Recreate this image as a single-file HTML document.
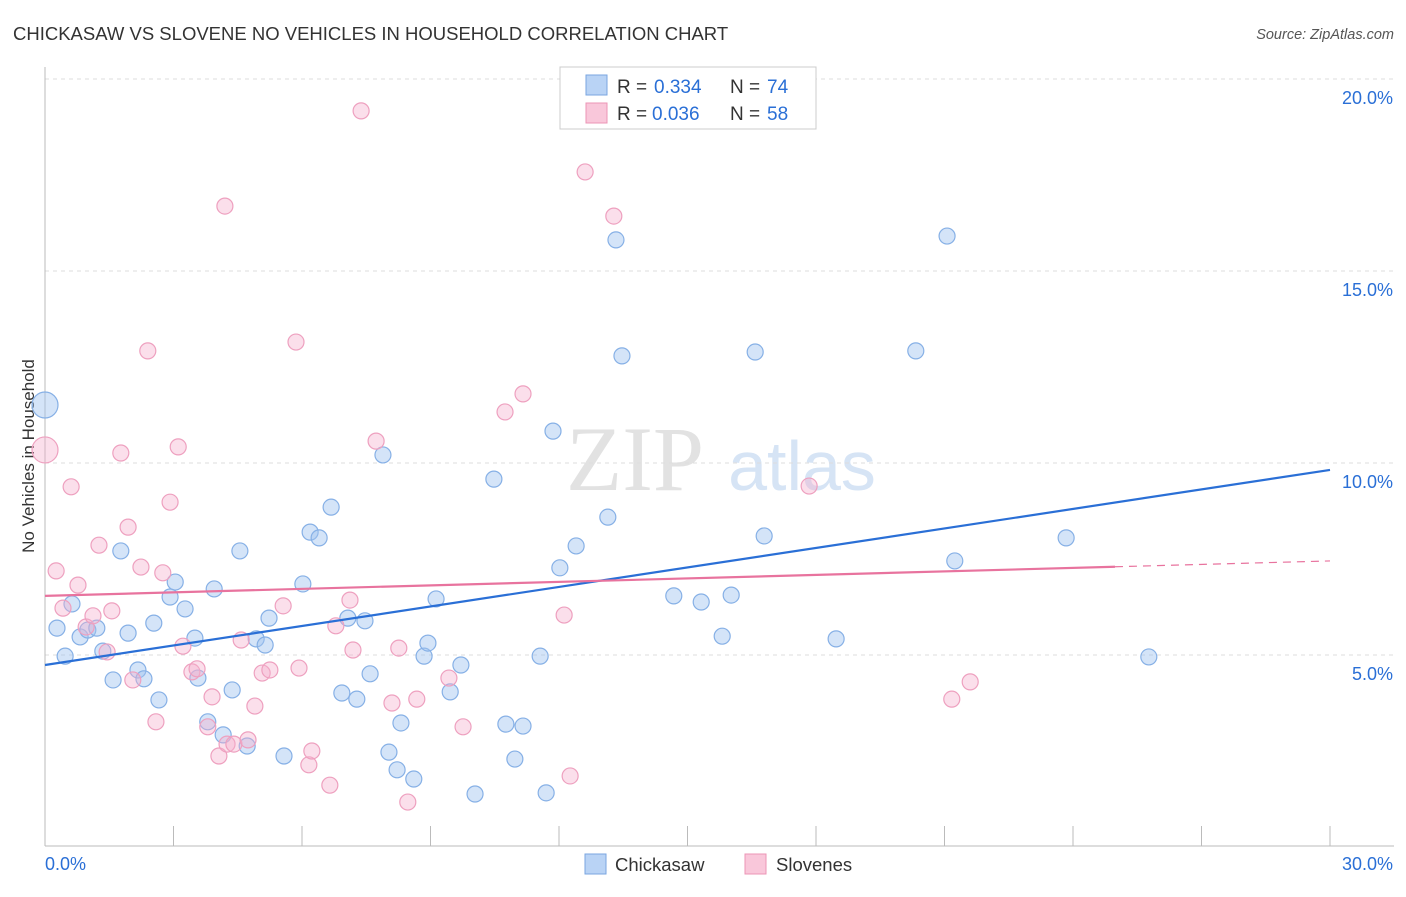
<!DOCTYPE html>
<html><head><meta charset="utf-8"><style>
body{margin:0;background:#fff;font-family:"Liberation Sans",sans-serif;}
svg text{font-family:"Liberation Sans",sans-serif;}
</style></head><body>
<svg id="chart" width="1406" height="892" xmlns="http://www.w3.org/2000/svg">
<text x="13" y="40" font-size="18.5" fill="#333">CHICKASAW VS SLOVENE NO VEHICLES IN HOUSEHOLD CORRELATION CHART</text>
<text x="1394" y="39" font-size="14.5" fill="#555" text-anchor="end" font-style="italic">Source: ZipAtlas.com</text>
<text x="34" y="456" font-size="17" fill="#333" text-anchor="middle" transform="rotate(-90 34 456)">No Vehicles in Household</text>
<g>
<text x="635" y="490" font-size="92" fill="#e2e2e2" text-anchor="middle" style="font-family:'Liberation Serif',serif">ZIP</text>
<text x="802" y="490" font-size="70" fill="#d6e4f5" text-anchor="middle">atlas</text>
</g>
<g id="grid"></g><g id="axes"></g><g id="pts"></g><g id="lines"></g>
<g>
<rect x="560" y="67" width="256" height="62" fill="#fff" stroke="#ccc"/>
<rect x="586" y="75" width="21" height="20" fill="#b9d3f5" stroke="#7aa6e0"/>
<text x="617" y="93" font-size="19" fill="#333">R =</text>
<text x="654" y="93" font-size="19" fill="#2a6fd6">0.334</text>
<text x="730" y="93" font-size="19" fill="#333">N =</text>
<text x="767" y="93" font-size="19" fill="#2a6fd6">74</text>
<rect x="586" y="103" width="21" height="20" fill="#f9c7da" stroke="#ec94b6"/>
<text x="617" y="120" font-size="19" fill="#333">R =</text>
<text x="652" y="120" font-size="19" fill="#2a6fd6">0.036</text>
<text x="730" y="120" font-size="19" fill="#333">N =</text>
<text x="767" y="120" font-size="19" fill="#2a6fd6">58</text>
</g>
<g>
<rect x="585" y="854" width="21" height="20" fill="#b9d3f5" stroke="#7aa6e0"/>
<text x="615" y="871" font-size="18.5" fill="#333">Chickasaw</text>
<rect x="745" y="854" width="21" height="20" fill="#f9c7da" stroke="#ec94b6"/>
<text x="776" y="871" font-size="18.5" fill="#333">Slovenes</text>
</g>
</svg>
<script>
const blueX=[0,0.28,0.47,0.63,0.82,1.00,1.21,1.35,1.59,1.77,1.94,2.17,2.31,2.54,2.66,2.92,3.04,3.27,3.50,3.57,3.80,3.95,4.16,4.37,4.55,4.72,4.93,5.14,5.23,5.58,6.02,6.19,6.40,6.68,6.93,7.07,7.28,7.47,7.59,7.89,8.03,8.22,8.31,8.61,8.85,8.94,9.13,9.46,9.71,10.04,10.48,10.76,10.97,11.16,11.56,11.70,11.86,12.02,12.40,13.14,13.33,13.47,14.68,15.32,15.81,16.02,16.58,16.79,18.47,20.33,21.06,21.24,23.84,25.77];
const blueY=[11.51,5.70,4.97,6.33,5.47,5.65,5.70,5.10,4.35,7.71,5.57,4.61,4.38,5.83,3.83,6.51,6.90,6.20,5.44,4.40,3.26,6.72,2.92,4.09,7.71,2.63,5.42,5.26,5.96,2.37,6.85,8.20,8.05,8.85,4.01,5.96,3.85,5.89,4.51,10.21,2.47,2.01,3.23,1.77,4.97,5.31,6.46,4.04,4.74,1.38,9.58,3.20,2.29,3.15,4.97,1.41,10.83,7.27,7.84,8.59,15.81,12.79,6.54,6.38,5.49,6.56,12.89,8.10,5.42,12.92,15.91,7.45,8.05,4.95];
const pinkX=[0,0.26,0.42,0.61,0.77,0.96,1.12,1.26,1.45,1.56,1.77,1.94,2.05,2.24,2.40,2.59,2.75,2.92,3.11,3.22,3.43,3.55,3.80,3.90,4.06,4.20,4.25,4.41,4.58,4.74,4.90,5.07,5.25,5.56,5.86,5.93,6.16,6.23,6.65,6.79,7.12,7.19,7.38,7.73,8.10,8.26,8.47,8.68,9.43,9.76,10.74,11.16,12.12,12.26,12.61,13.28,17.84,21.17,21.60];
const pinkY=[10.34,7.19,6.22,9.38,6.82,5.73,6.02,7.86,5.08,6.15,10.26,8.33,4.35,7.29,12.92,3.26,7.14,8.98,10.42,5.23,4.56,4.64,3.13,3.91,2.37,16.69,2.68,2.68,5.39,2.79,3.67,4.53,4.61,6.28,13.15,4.66,2.14,2.50,1.61,5.76,6.43,5.13,19.17,10.57,3.75,5.18,1.17,3.85,4.40,3.13,11.33,11.80,6.04,1.85,17.58,16.43,9.40,3.85,4.30];
const blueTrend=[4.74,9.82];
const pinkTrend=[6.54,7.45];
const pinkSolidEnd=24.98;
const yTicks=[5,10,15,20];
const yTickLabels=["5.0%","10.0%","15.0%","20.0%"];
const xTicks=[0,3,6,9,12,15,18,21,24,27,30];
const NS="http://www.w3.org/2000/svg";
const sx=v=>45+v/30*1285, sy=v=>847-v*38.4;
function mk(t,a,p){const e=document.createElementNS(NS,t);for(const k in a)e.setAttribute(k,a[k]);p.appendChild(e);return e;}
const grid=document.getElementById('grid'),axes=document.getElementById('axes'),pts=document.getElementById('pts'),lines=document.getElementById('lines');
yTicks.forEach((v,i)=>{
 const l=mk('line',{x1:45,x2:1394,y1:sy(v),y2:sy(v),stroke:'#ddd','stroke-dasharray':'4,4'},grid);
 
 
 const t=mk('text',{x:1393,y:sy(v)+25,'font-size':18,fill:'#2a6fd6','text-anchor':'end'},axes);
 t.textContent=yTickLabels[i];
 
 
});
const ya=mk('line',{x1:45,x2:45,y1:67,y2:846,stroke:'#bbb'},axes);


const xa=mk('line',{x1:45,x2:1394,y1:846,y2:846,stroke:'#bbb'},axes);


xTicks.forEach(v=>{const l=mk('line',{x1:sx(v),x2:sx(v),y1:826,y2:846,stroke:'#bbb'},axes);
 
 });
const xl0=mk('text',{x:45,y:870,'font-size':18,fill:'#2a6fd6'},axes);xl0.textContent='0.0%';


const xl1=mk('text',{x:1393,y:870,'font-size':18,fill:'#2a6fd6','text-anchor':'end'},axes);xl1.textContent='30.0%';


function dots(X,Y,fill,stroke,name){X.forEach((x,i)=>{const c=mk('circle',{cx:sx(x),cy:sy(Y[i]),r:i===0?13:8,fill:fill,stroke:stroke,'stroke-width':1.2},pts);
 
 });}
dots(blueX,blueY,'rgba(160,196,240,0.45)','#86b0e6','chickasaw-point');
dots(pinkX,pinkY,'rgba(246,175,204,0.4)','#eea0bf','slovenes-point');
const bl=mk('line',{x1:sx(0),y1:sy(blueTrend[0]),x2:sx(30),y2:sy(blueTrend[1]),stroke:'#2a6fd6','stroke-width':2.2},lines);


const pAt=x=>pinkTrend[0]+(pinkTrend[1]-pinkTrend[0])*x/30;
const pl=mk('line',{x1:sx(0),y1:sy(pinkTrend[0]),x2:sx(pinkSolidEnd),y2:sy(pAt(pinkSolidEnd)),stroke:'#e8739e','stroke-width':2.2},lines);


const pd=mk('line',{x1:sx(pinkSolidEnd),y1:sy(pAt(pinkSolidEnd)),x2:sx(30),y2:sy(pinkTrend[1]),stroke:'#e8739e','stroke-width':1.2,'stroke-dasharray':'8,6'},lines);


</script>
</body></html>
